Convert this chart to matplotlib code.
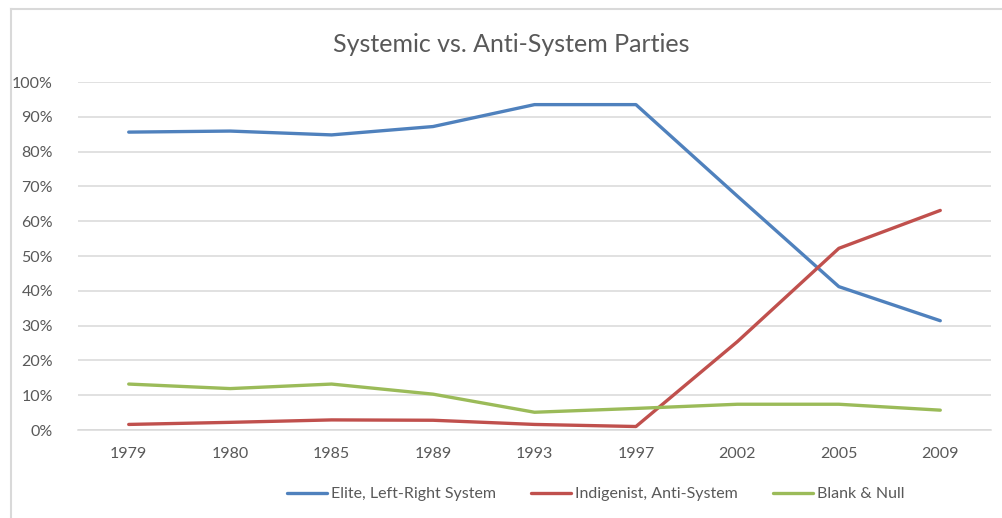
import numpy as np
import matplotlib
matplotlib.use('Agg')
import matplotlib.pyplot as plt
from matplotlib.lines import Line2D
from matplotlib.ticker import PercentFormatter

years = ['1979', '1980', '1985', '1989', '1993', '1997', '2002', '2005', '2009']
elite = [85.6, 85.9, 84.8, 87.2, 93.5, 93.5, 67.2, 41.2, 31.4]
indig = [1.6, 2.2, 2.9, 2.8, 1.6, 1.0, 25.4, 52.2, 63.1]
blank = [13.2, 11.9, 13.2, 10.3, 5.1, 6.2, 7.4, 7.4, 5.7]

names = ['Elite, Left-Right System', 'Indigenist, Anti-System', 'Blank & Null']
colors = ['#4F81BD', '#C0504D', '#9BBB59']

plt.rcParams['font.family'] = ['Lato', 'DejaVu Sans']
txt = '#595959'
grid = '#D9D9D9'

fig = plt.figure(figsize=(10.02, 5.18), dpi=100)
ax = fig.add_axes([78/1002, 1-430/518, (991-78)/1002, (430-82)/518])

x = np.arange(len(years))
for vals, name, c in zip([elite, indig, blank], names, colors):
    ax.plot(x, vals, color=c, lw=2.4, label=name, solid_capstyle='round', solid_joinstyle='round')

ax.set_xlim(-0.5, len(years)-0.5)
ax.set_ylim(0, 100)
ax.set_yticks(np.arange(0, 101, 10))
ax.yaxis.set_major_formatter(PercentFormatter(decimals=0))
ax.set_xticks(x)
ax.set_xticklabels(years)
ax.grid(axis='y', color=grid, lw=1.1)
ax.set_axisbelow(True)
for s in ['top', 'right', 'left']:
    ax.spines[s].set_visible(False)
ax.spines['bottom'].set_color(grid)
ax.spines['bottom'].set_linewidth(1.1)
ax.tick_params(length=0, labelsize=11.5, colors=txt, pad=12)
ax.tick_params(axis='y', pad=18)

fig.text(0.51, 1-45/518, 'Systemic vs. Anti-System Parties', ha='center', va='center',
         fontsize=18, color=txt)

fig.legend(loc='center', bbox_to_anchor=(596/1002, 1-494/518), ncol=3, frameon=False,
           fontsize=11.5, labelcolor=txt, handlelength=2.5, handletextpad=0.25, columnspacing=2.2)

# chart border
fig.add_artist(Line2D([11/1002, 11/1002], [0, 1-9/518], color=grid, lw=1.5))
fig.add_artist(Line2D([11/1002, 1], [1-9/518, 1-9/518], color=grid, lw=1.5))

plt.savefig('out.png', dpi=100)
